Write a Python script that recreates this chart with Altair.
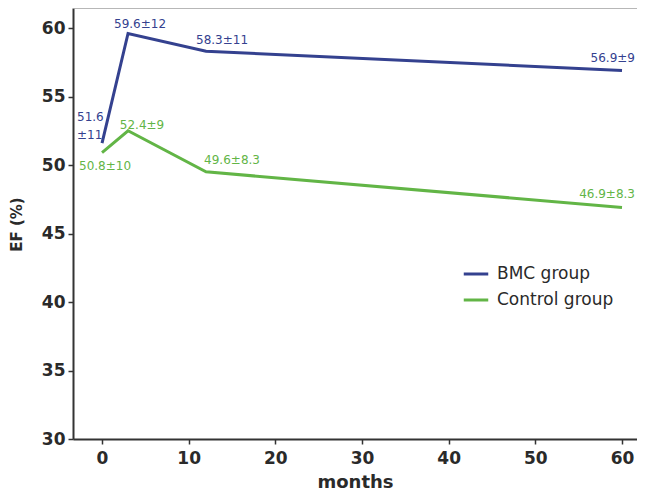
import altair as alt
import pandas as pd

months = [0, 3, 12, 60]
bmc_ef = [51.6, 59.6, 58.3, 56.9]
control_ef = [50.9, 52.5, 49.5, 46.9]
bmc_labels = ["51.6\n±11", "59.6±12", "58.3±11", "56.9±9"]
control_labels = ["50.8±10", "52.4±9", "49.6±8.3", "46.9±8.3"]
groups = ["BMC group", "Control group"]
colors = ["#34418f", "#62b546"]

rows = []
for m, v, l in zip(months, bmc_ef, bmc_labels):
    rows.append({"months": m, "ef": v, "group": groups[0], "label": l})
for m, v, l in zip(months, control_ef, control_labels):
    rows.append({"months": m, "ef": v, "group": groups[1], "label": l})
df = pd.DataFrame(rows)

W, H = 564, 431
xscale = alt.Scale(domain=[-3.35, 61.73], nice=False, zero=False)
yscale = alt.Scale(domain=[30, 61.46], nice=False, zero=False)
cscale = alt.Scale(domain=groups, range=colors)

FONT = "DejaVu Sans"
axis_common = dict(
    labelFont=FONT, labelFontWeight="bold", labelFontSize=17,
    labelColor="#2a2a2a", titleFont=FONT, titleColor="#2a2a2a",
    domainColor="#333333", domainWidth=2, tickColor="#333333", tickSize=5,
    tickWidth=1.5, grid=False,
)

x = alt.X("months:Q", scale=xscale, title="months",
          axis=alt.Axis(values=[0, 10, 20, 30, 40, 50, 60], titleFontSize=18,
                        titleFontWeight="bold", titlePadding=7, labelPadding=6,
                        **axis_common))
y = alt.Y("ef:Q", scale=yscale, title="EF (%)",
          axis=alt.Axis(values=[30, 35, 40, 45, 50, 55, 60], titleFontSize=15,
                        titleFontWeight="bold", titleX=-57, titleY=216,
                        titleAlign="center", titleBaseline="middle", labelPadding=3,
                        **axis_common))

lines = alt.Chart(df).mark_line(strokeWidth=3).encode(
    x=x, y=y,
    color=alt.Color("group:N", scale=cscale, title=None,
                    legend=alt.Legend(orient="none", legendX=389, legendY=252,
                                      symbolType="stroke", symbolStrokeWidth=3,
                                      symbolSize=600, labelFont=FONT,
                                      labelFontSize=17, labelColor="#2a2a2a",
                                      rowPadding=4, labelOffset=7, padding=0)),
)

# label offsets (styling only)
bmc_off = [(-25, -26, "left"), (12, -9, "center"), (16, -11, "center"), (13, -12, "right")]
ctl_off = [(3, 13, "center"), (14, -6, "center"), (26, -12, "center"), (13, -13, "right")]

layers = [lines]
for i, (dx, dy, al) in enumerate(bmc_off):
    sub = df[(df.group == groups[0]) & (df.months == months[i])]
    layers.append(alt.Chart(sub).mark_text(
        dx=dx, dy=dy, align=al, baseline="middle", font=FONT, fontSize=12,
        color=colors[0], lineBreak="\n", lineHeight=18).encode(
        x=alt.X("months:Q", scale=xscale), y=alt.Y("ef:Q", scale=yscale), text="label:N"))
for i, (dx, dy, al) in enumerate(ctl_off):
    sub = df[(df.group == groups[1]) & (df.months == months[i])]
    layers.append(alt.Chart(sub).mark_text(
        dx=dx, dy=dy, align=al, baseline="middle", font=FONT, fontSize=12,
        color=colors[1]).encode(
        x=alt.X("months:Q", scale=xscale), y=alt.Y("ef:Q", scale=yscale), text="label:N"))

top_rule = alt.Chart(df.head(1)).mark_rule(color="#aaaaaa", strokeWidth=1.5).encode(
    x=alt.value(0), x2=alt.value(W), y=alt.value(0))
layers.append(top_rule)

chart = alt.layer(*layers).properties(
    width=W, height=H,
    autosize=alt.AutoSizeParams(type="none"),
    padding={"left": 65, "top": 0, "right": 0, "bottom": 52},
).configure_view(stroke=None).configure(background="white")

chart.save("out.html", embed_options={"renderer": "svg", "actions": False})
